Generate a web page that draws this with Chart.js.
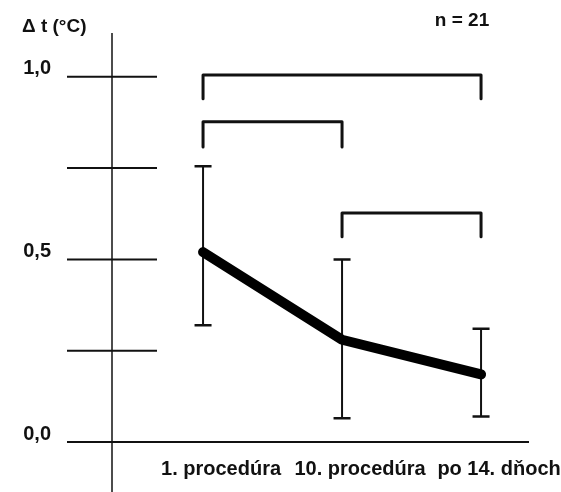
<!DOCTYPE html>
<html>
<head>
<meta charset="utf-8">
<script src="https://cdn.jsdelivr.net/npm/chart.js@4"></script>
<style>
  body { margin: 0; background: #fff; }
</style>
</head>
<body>
<canvas id="chart" width="561" height="492"></canvas>
<script>
const categories = ['1. procedúra', '10. procedúra', 'po 14. dňoch'];
const positions = [1, 2, 3];
const means = [0.52, 0.28, 0.185];
const errHigh = [0.755, 0.50, 0.31];
const errLow = [0.32, 0.065, 0.07];
const yTickValues = [0, 0.25, 0.5, 0.75, 1.0];
const yTickLabels = ['0,0', '', '0,5', '', '1,0'];
// significance brackets: from/to category index, top of bracket, end of legs
const bracketFrom = [0, 0, 1];
const bracketTo = [2, 1, 2];
const bracketTop = [1.005, 0.877, 0.627];
const bracketLegEnd = [0.94, 0.808, 0.562];
const yTitle = 'Δ t (°C)';
const nLabel = 'n = 21';

const FONT = "'Liberation Sans', Arial, sans-serif";
const INK = '#111';

const decorations = {
    id: 'decorations',
    beforeDatasetsDraw(chart) {
        const { ctx, scales: { x, y } } = chart;
        ctx.save();
        ctx.strokeStyle = INK;

        // vertical axis, runs past the baseline to the bottom
        ctx.lineWidth = 1.5;
        ctx.beginPath();
        ctx.moveTo(x.left, chart.chartArea.top);
        ctx.lineTo(x.left, chart.height);
        ctx.stroke();

        // tick marks crossing the axis, baseline runs across
        ctx.lineWidth = 2;
        yTickValues.forEach(v => {
            const py = y.getPixelForValue(v);
            ctx.beginPath();
            ctx.moveTo(x.left - 45, py);
            ctx.lineTo(v === 0 ? x.right : x.left + 45, py);
            ctx.stroke();
        });

        // error bars
        positions.forEach((p, i) => {
            const px = x.getPixelForValue(p);
            const top = y.getPixelForValue(errHigh[i]);
            const bot = y.getPixelForValue(errLow[i]);
            ctx.lineWidth = 2;
            ctx.beginPath();
            ctx.moveTo(px, top);
            ctx.lineTo(px, bot);
            ctx.stroke();
            ctx.lineWidth = 2.5;
            ctx.beginPath();
            ctx.moveTo(px - 8.5, top);
            ctx.lineTo(px + 8.5, top);
            ctx.moveTo(px - 8.5, bot);
            ctx.lineTo(px + 8.5, bot);
            ctx.stroke();
        });
        ctx.restore();
    },
    afterDraw(chart) {
        const { ctx, scales: { x, y } } = chart;
        ctx.save();
        ctx.strokeStyle = INK;
        ctx.lineWidth = 3;
        ctx.lineJoin = 'round';
        ctx.lineCap = 'round';
        bracketFrom.forEach((f, i) => {
            const x1 = x.getPixelForValue(positions[f]);
            const x2 = x.getPixelForValue(positions[bracketTo[i]]);
            const yt = y.getPixelForValue(bracketTop[i]);
            const yb = y.getPixelForValue(bracketLegEnd[i]);
            ctx.beginPath();
            ctx.moveTo(x1, yb);
            ctx.lineTo(x1, yt);
            ctx.lineTo(x2, yt);
            ctx.lineTo(x2, yb);
            ctx.stroke();
        });

        ctx.fillStyle = INK;
        ctx.font = 'bold 19px ' + FONT;
        ctx.textBaseline = 'middle';
        ctx.textAlign = 'left';
        ctx.fillText(yTitle, 22, 27);
        ctx.textAlign = 'center';
        ctx.fillText(nLabel, 462, 21);
        ctx.restore();
    }
};

new Chart(document.getElementById('chart'), {
    type: 'line',
    data: {
        datasets: [{
            data: positions.map((p, i) => ({ x: p, y: means[i] })),
            borderColor: '#000',
            borderWidth: 10,
            borderCapStyle: 'round',
            borderJoinStyle: 'round',
            pointRadius: 0,
            tension: 0
        }]
    },
    options: {
        responsive: false,
        animation: false,
        layout: { padding: { top: 33, right: 32, left: 0, bottom: 0 } },
        plugins: { legend: { display: false }, tooltip: { enabled: false } },
        scales: {
            x: {
                type: 'linear',
                min: 0.345,
                max: 3.345,
                grid: { display: false },
                border: { display: false },
                afterBuildTicks: s => { s.ticks = positions.map(v => ({ value: v })); },
                afterFit: s => { s.height = 50; s.paddingLeft = 0; s.paddingRight = 0; },
                ticks: {
                    autoSkip: false,
                    maxRotation: 0,
                    padding: 7,
                    labelOffset: 18,
                    color: INK,
                    font: { family: FONT, size: 20, weight: 'bold' },
                    callback: (v, i) => categories[i]
                }
            },
            y: {
                min: 0,
                max: 1.12,
                grid: { display: false },
                border: { display: false },
                afterBuildTicks: s => { s.ticks = yTickValues.map(v => ({ value: v })); },
                afterFit: s => { s.width = 112; s.paddingTop = 0; s.paddingBottom = 0; },
                ticks: {
                    padding: 53,
                    labelOffset: -8,
                    color: INK,
                    font: { family: FONT, size: 20, weight: 'bold' },
                    callback: (v, i) => yTickLabels[i]
                }
            }
        }
    },
    plugins: [decorations]
});
</script>
</body>
</html>
